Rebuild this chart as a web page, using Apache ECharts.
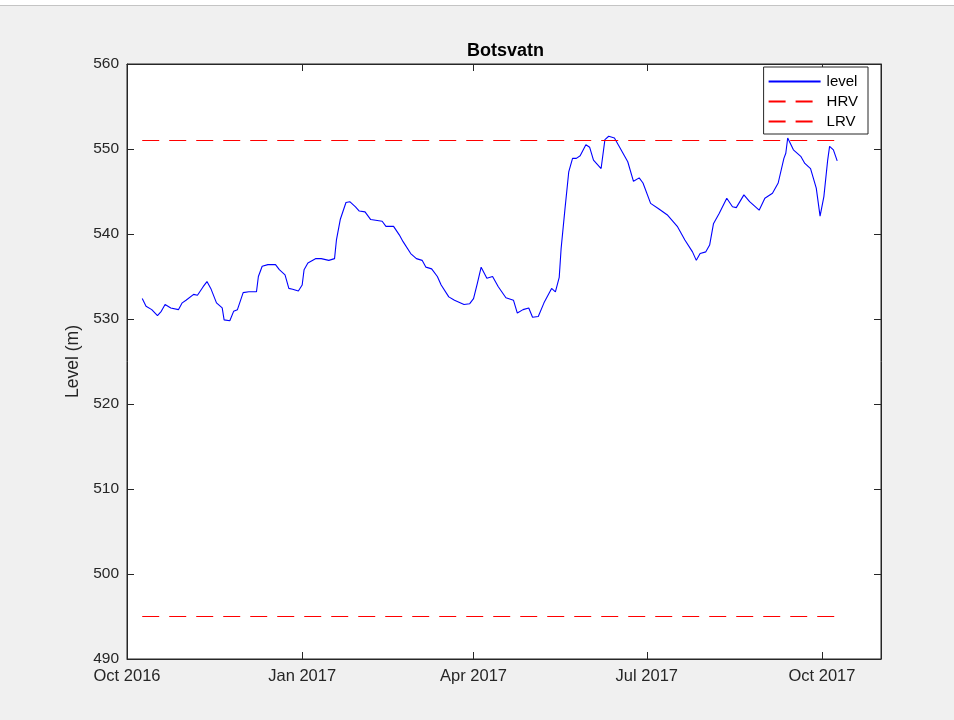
<!DOCTYPE html>
<html lang="en">
<head>
    <meta charset="UTF-8">
    <title>Botsvatn</title>
    <script src="https://cdn.jsdelivr.net/npm/echarts@6.0.0/dist/echarts.min.js"></script>
    <style>
        body { margin: 0; background: #f0f0f0; }
    </style>
</head>
<body>
    <div id="main" style="width: 954px;height:720px;"></div>
    <script type="text/javascript">
        // days counted from 1 Oct 2016
        const tickDays = [0, 92, 182, 273, 365];
        const tickLabels = ['Oct 2016', 'Jan 2017', 'Apr 2017', 'Jul 2017', 'Oct 2017'];

        // reservoir level (m)
        const days = [8, 10, 13, 16, 18, 20, 23, 27, 29, 31, 35, 37, 40, 42, 44, 47, 50, 51, 54, 56,
            58, 61, 64, 68, 69, 71, 74, 78, 80, 83, 85, 87, 90, 92, 93, 95, 99, 102, 106, 109,
            110, 112, 115, 117, 120, 122, 125, 128, 134, 136, 140, 143, 145, 149, 152, 155, 157, 160, 163, 165,
            169, 172, 177, 180, 182, 184, 186, 189, 192, 195, 199, 203, 205, 208, 211, 213, 216, 219, 223, 225,
            227, 228, 230, 232, 234, 236, 238, 241, 243, 245, 249, 251, 253, 256, 258, 263, 266, 269, 271, 275,
            279, 284, 289, 293, 297, 299, 301, 304, 306, 308, 311, 315, 318, 320, 324, 327, 332, 335, 339, 342,
            345, 346, 347, 350, 354, 356, 359, 362, 364, 366, 368, 369, 371, 373];
        const level = [532.4, 531.5, 531.1, 530.4, 530.9, 531.7, 531.3, 531.1, 531.9, 532.2, 532.9, 532.8, 533.8, 534.4, 533.6, 531.9, 531.3, 529.9, 529.8, 530.9,
            531.1, 533.1, 533.2, 533.2, 535.0, 536.2, 536.4, 536.4, 535.8, 535.2, 533.6, 533.5, 533.3, 534.0, 535.8, 536.6, 537.1, 537.1, 536.9, 537.1,
            539.3, 541.7, 543.7, 543.8, 543.2, 542.7, 542.6, 541.7, 541.5, 540.9, 540.9, 539.9, 539.1, 537.7, 537.1, 536.9, 536.1, 535.9, 535.0, 534.0,
            532.6, 532.2, 531.7, 531.8, 532.4, 534.2, 536.1, 534.8, 535.0, 533.8, 532.5, 532.2, 530.7, 531.1, 531.3, 530.2, 530.3, 531.9, 533.6, 533.2,
            534.9, 538.3, 542.9, 547.3, 548.9, 548.9, 549.2, 550.5, 550.2, 548.7, 547.7, 551.1, 551.5, 551.3, 550.5, 548.5, 546.2, 546.6, 546.0, 543.6,
            543.0, 542.2, 540.9, 539.3, 537.9, 536.9, 537.7, 537.9, 538.7, 541.2, 542.4, 544.2, 543.2, 543.1, 544.6, 543.8, 542.8, 544.2, 544.8, 546.0,
            548.9, 549.5, 551.3, 549.9, 549.1, 548.3, 547.7, 545.4, 542.1, 544.4, 548.7, 550.3, 549.9, 548.6];

        // regulation limits
        const hrv = 551;
        const lrv = 495;

        const font = 'Liberation Sans, Helvetica, Arial, sans-serif';
        const ink = '#262626';
        const first = days[0];
        const last = days[days.length - 1];

        function boxAxisX(pos, showLabel) {
            return {
                type: 'value', position: pos, min: 0, max: 396,
                axisLine: { show: true, onZero: false, lineStyle: { color: ink, width: 1 } },
                axisTick: { show: true, inside: true, length: 7, customValues: tickDays, lineStyle: { color: ink } },
                axisLabel: {
                    show: showLabel, customValues: tickDays, margin: 9,
                    fontFamily: font, fontSize: 16.5, color: ink,
                    formatter: (v) => tickLabels[tickDays.indexOf(v)] || ''
                },
                splitLine: { show: false }
            };
        }
        function boxAxisY(pos, showLabel) {
            return {
                type: 'value', position: pos, min: 490, max: 560, interval: 10,
                name: showLabel ? 'Level (m)' : '', nameLocation: 'middle', nameGap: 44,
                nameTextStyle: { fontFamily: font, fontSize: 17.5, color: ink },
                axisLine: { show: true, onZero: false, lineStyle: { color: ink, width: 1 } },
                axisTick: { show: true, inside: true, length: 7, lineStyle: { color: ink } },
                axisLabel: { show: showLabel, margin: 8, fontFamily: font, fontSize: 15.5, color: ink },
                splitLine: { show: false }
            };
        }

        let options = {
            backgroundColor: '#f0f0f0',
            animation: false,
            title: {
                text: 'Botsvatn', left: 462, top: 37,
                textStyle: { fontFamily: font, fontSize: 18, fontWeight: 'bold', color: '#000' }
            },
            graphic: [
                { type: 'rect', shape: { x: 0, y: 0, width: 954, height: 5 }, style: { fill: '#ffffff' } },
                { type: 'line', shape: { x1: 0, y1: 5.5, x2: 954, y2: 5.5 }, style: { stroke: '#c4c4c4', lineWidth: 1 } }
            ],
            grid: {
                left: 127, right: 73, top: 64, bottom: 61,
                show: true, backgroundColor: '#ffffff', borderColor: ink, borderWidth: 1
            },
            legend: {
                orient: 'vertical', right: 86, top: 67,
                data: ['level', 'HRV', 'LRV'],
                itemWidth: 52, itemHeight: 14, itemGap: 5,
                padding: [7, 10, 5, 4],
                itemStyle: { opacity: 0 },
                backgroundColor: '#ffffff', borderColor: ink, borderWidth: 1,
                textStyle: { fontFamily: font, fontSize: 15, color: '#000', padding: [0, 0, 0, 1] }
            },
            xAxis: [boxAxisX('bottom', true), boxAxisX('top', false)],
            yAxis: [boxAxisY('left', true), boxAxisY('right', false)],
            series: [
                {
                    name: 'level', type: 'line', symbol: 'none', showSymbol: false,
                    data: days.map((d, i) => [d, level[i]]),
                    lineStyle: { color: '#0000ff', width: 1.1 },
                    itemStyle: { color: '#0000ff' }
                },
                {
                    name: 'HRV', type: 'line', symbol: 'none', showSymbol: false,
                    data: [[first, hrv], [last, hrv]],
                    lineStyle: { color: '#ff0000', width: 1, type: [17, 10] },
                    itemStyle: { color: '#ff0000' }
                },
                {
                    name: 'LRV', type: 'line', symbol: 'none', showSymbol: false,
                    data: [[first, lrv], [last, lrv]],
                    lineStyle: { color: '#ff0000', width: 1, type: [17, 10] },
                    itemStyle: { color: '#ff0000' }
                }
            ]
        };

        let myChart = echarts.init(document.getElementById('main'));
        myChart.setOption(options);
    </script>
</body>
</html>
